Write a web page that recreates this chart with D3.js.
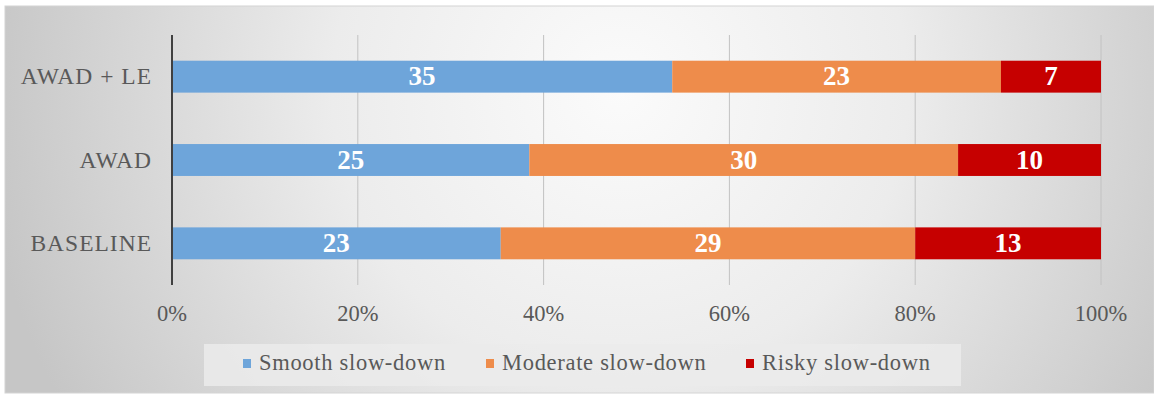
<!DOCTYPE html>
<html><head><meta charset="utf-8">
<script src="https://cdn.jsdelivr.net/npm/d3@7"></script>
<style>html,body{margin:0;padding:0;background:#fff;}svg{display:block;}</style>
</head><body>
<svg id="c" width="1154" height="400"></svg>
<script>
const categories = ["AWAD + LE", "AWAD", "BASELINE"];
const seriesNames = ["Smooth slow-down", "Moderate slow-down", "Risky slow-down"];
const smooth = [35, 25, 23];
const moderate = [23, 30, 29];
const risky = [7, 10, 13];
const tickLabels = ["0%", "20%", "40%", "60%", "80%", "100%"];
const colors = ["#6ea5da", "#ee8c4b", "#c60000"];
const FONT = "'Liberation Serif', 'Times New Roman', Tinos";

const svg = d3.select("#c");
const defs = svg.append("defs");
const grad = defs.append("radialGradient").attr("id", "bg")
  .attr("gradientUnits", "userSpaceOnUse")
  .attr("cx", 620).attr("cy", 90).attr("r", 640);
grad.append("stop").attr("offset", "0%").attr("stop-color", "#fbfbfb");
grad.append("stop").attr("offset", "45%").attr("stop-color", "#ececec");
grad.append("stop").attr("offset", "100%").attr("stop-color", "#c6c6c6");

svg.append("rect").attr("x", 5).attr("y", 6).attr("width", 1149).attr("height", 387)
  .attr("fill", "url(#bg)").attr("stroke", "#d4d4d4").attr("stroke-width", 1);

const m = {left: 172, right: 1101, top: 35, bottom: 285};
const x = d3.scaleLinear().domain([0, 1]).range([m.left, m.right]);
const y = d3.scaleBand().domain(categories).range([m.top, m.bottom]).paddingInner(0.617).paddingOuter(0.3085);

const rows = categories.map((c, i) => {
  const vals = [smooth[i], moderate[i], risky[i]];
  const tot = d3.sum(vals);
  let acc = 0;
  return vals.map((v, k) => { const s = acc; acc += v; return {cat: c, k, v, x0: s / tot, x1: acc / tot}; });
});

const ticks = d3.range(0, 1.0001, 0.2);
svg.append("g").selectAll("line").data(ticks.slice(1)).join("line")
  .attr("x1", d => x(d)).attr("x2", d => x(d))
  .attr("y1", m.top).attr("y2", m.bottom)
  .attr("stroke", "#c2c2c2").attr("stroke-width", 1);

const g = svg.append("g");
rows.flat().forEach(d => {
  g.append("rect").attr("x", x(d.x0)).attr("y", y(d.cat))
    .attr("width", x(d.x1) - x(d.x0)).attr("height", y.bandwidth())
    .attr("fill", colors[d.k]);
  g.append("text").attr("x", (x(d.x0) + x(d.x1)) / 2).attr("y", y(d.cat) + y.bandwidth() / 2 + 8.5)
    .attr("text-anchor", "middle").attr("fill", "#ffffff")
    .style("font-family", FONT).style("font-weight", "bold").style("font-size", "27px")
    .text(d.v);
});

svg.append("line").attr("x1", m.left).attr("x2", m.left).attr("y1", m.top).attr("y2", m.bottom)
  .attr("stroke", "#404040").attr("stroke-width", 2);

svg.append("g").selectAll("text").data(categories).join("text")
  .attr("x", 152).attr("y", d => y(d) + y.bandwidth() / 2 + 7.5)
  .attr("text-anchor", "end").attr("fill", "#595959")
  .style("font-family", FONT).style("font-size", "23.5px").style("letter-spacing", "1px")
  .text(d => d);

svg.append("g").selectAll("text").data(ticks).join("text")
  .attr("x", d => x(d)).attr("y", 321)
  .attr("text-anchor", "middle").attr("fill", "#595959")
  .style("font-family", FONT).style("font-size", "22.5px")
  .text((d, i) => tickLabels[i]);

svg.append("rect").attr("x", 204).attr("y", 344).attr("width", 757).attr("height", 42)
  .attr("fill", "#ebebeb").attr("opacity", 0.85);
const lx = [243, 486, 746];
seriesNames.forEach((s, i) => {
  svg.append("rect").attr("x", lx[i]).attr("y", 359).attr("width", 8).attr("height", 9).attr("fill", colors[i]);
  svg.append("text").attr("x", lx[i] + 16).attr("y", 370).attr("fill", "#595959")
    .style("font-family", FONT).style("font-size", "22.5px").style("letter-spacing", "0.7px").text(s);
});
</script>
</body></html>
